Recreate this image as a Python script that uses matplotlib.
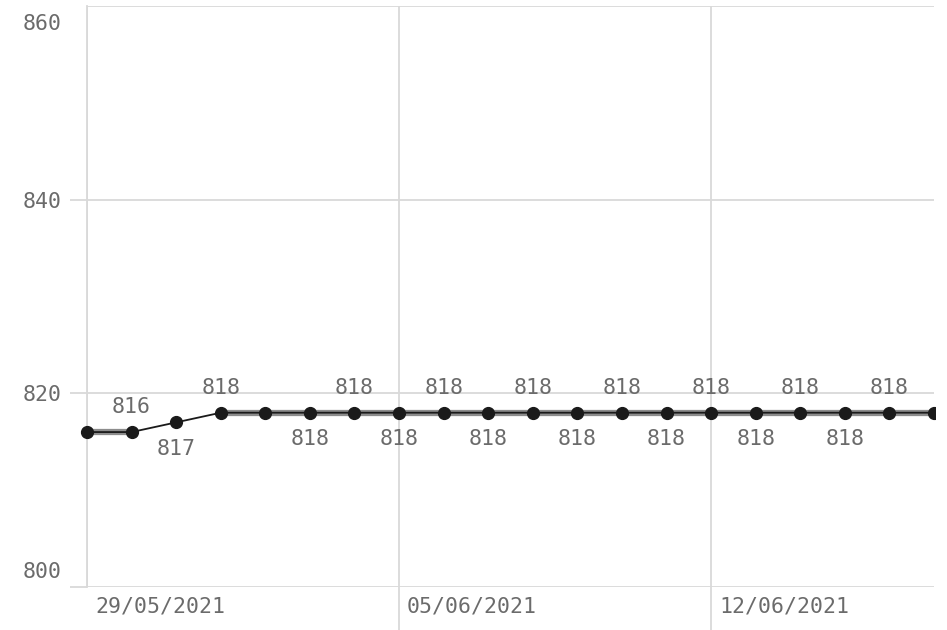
import matplotlib
matplotlib.use("Agg")
import matplotlib.pyplot as plt
import matplotlib.transforms as mtransforms
from matplotlib.patches import Rectangle
import numpy as np
import pandas as pd

dates = pd.date_range("2021-05-29", periods=20, freq="D")
values = [816, 816, 817, 818, 818, 818, 818, 818, 818, 818,
          818, 818, 818, 818, 818, 818, 818, 818, 818, 818]
label_pos = [None, "above", "below", "above", None, "below", "above", "below", "above", "below",
             "above", "below", "above", "below", "above", "below", "above", "below", "above", None]
y_ticks = [800, 820, 840, 860]
x_tick_labels = ["29/05/2021", "05/06/2021", "12/06/2021"]
x_tick_dates = pd.to_datetime(["2021-05-29", "2021-06-05", "2021-06-12"])

FONT = "DejaVu Sans Mono"
TXT = "#6b6b6b"
GRID = "#d9d9d9"
FS = 15.5

fig = plt.figure(figsize=(9.47, 6.30), dpi=100)
W, H = 947, 630
ax = fig.add_axes([87 / W, (H - 587) / H, (934 - 87) / W, (587 - 6) / H])

x = np.array([(d - dates[0]).days for d in dates], dtype=float)
v = np.array(values, dtype=float)

clip = Rectangle((-0.05, -0.05), 1.051, 1.1, transform=ax.transAxes, visible=False)
ax.add_patch(clip)

arts = []
for i in range(len(v) - 1):
    if v[i] == v[i + 1]:
        arts += ax.plot(x[i:i + 2], v[i:i + 2], color="#8c8c8c", lw=4.5, solid_capstyle="butt",
                        zorder=3)
arts += ax.plot(x, v, color="#1a1a1a", lw=1.3, zorder=4)
arts += ax.plot(x, v, "o", color="#1a1a1a", ms=8.5, zorder=5)
for a in arts:
    a.set_clip_path(clip)

for xi, vi, pos in zip(x, values, label_pos):
    if pos is None:
        continue
    dy = 18 if pos == "above" else -19
    ax.annotate(f"{vi}", (xi, vi), xytext=(0, dy), textcoords="offset points",
                ha="center", va="center", fontsize=FS, family=FONT, color=TXT, zorder=6)

ax.set_xlim(0, 19)
ax.set_ylim(800, 860)

ax.set_yticks(y_ticks)
ax.set_yticklabels([str(t) for t in y_ticks])
xt = [(d - dates[0]).days for d in x_tick_dates]
ax.set_xticks(xt)
ax.set_xticklabels(x_tick_labels)
ax.grid(True, color=GRID, lw=1.3, zorder=0)
ax.set_axisbelow(True)
for s in ["top", "right", "bottom"]:
    ax.spines[s].set_visible(False)
ax.spines["left"].set_color(GRID)
ax.spines["left"].set_linewidth(1.3)

ax.tick_params(axis="y", length=17 * 0.72, width=1.3, color=GRID, pad=6,
               labelsize=FS, labelcolor=TXT)
ax.tick_params(axis="x", length=43 * 0.72, width=1.3, color=GRID, pad=7 - 31,
               labelsize=FS, labelcolor=TXT)
for lab in ax.get_yticklabels() + ax.get_xticklabels():
    lab.set_family(FONT)

ax.yaxis.get_major_ticks()[-1].tick1line.set_visible(False)
ax.xaxis.get_major_ticks()[0].tick1line.set_visible(False)

for lab in ax.get_xticklabels():
    lab.set_ha("left")
    lab.set_va("top")
    lab.set_transform(lab.get_transform() + mtransforms.ScaledTranslation(8 / 100, 0, fig.dpi_scale_trans))
offs = {"800": 17, "860": -16}
for lab in ax.get_yticklabels():
    t = lab.get_text()
    if t in offs:
        lab.set_transform(lab.get_transform() + mtransforms.ScaledTranslation(0, offs[t] / 100, fig.dpi_scale_trans))

fig.savefig("out.png", dpi=100, facecolor="white")
